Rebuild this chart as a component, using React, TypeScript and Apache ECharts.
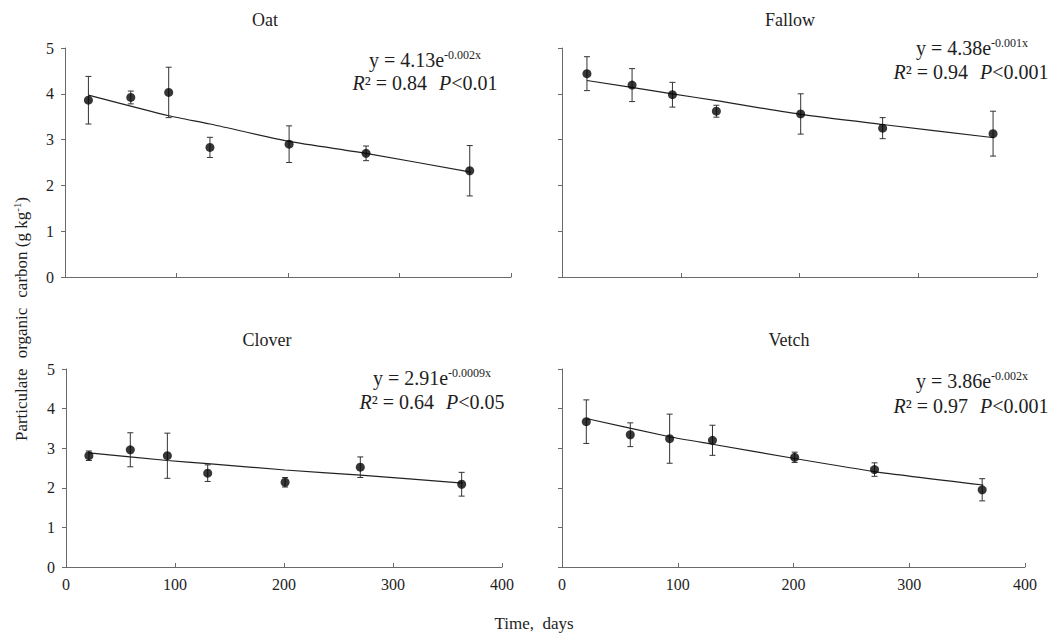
import React, { useEffect, useRef } from "react";
import * as echarts from "echarts";

// ---- data ----
const days = [21, 59, 93, 130, 201, 270, 363];

const oatMean = [3.86, 3.92, 4.03, 2.83, 2.9, 2.7, 2.32];
const oatErr = [0.52, 0.14, 0.55, 0.22, 0.4, 0.16, 0.55];
const fallowMean = [4.44, 4.19, 3.98, 3.62, 3.56, 3.25, 3.13];
const fallowErr = [0.37, 0.36, 0.27, 0.13, 0.44, 0.23, 0.49];
const cloverMean = [2.81, 2.96, 2.81, 2.37, 2.14, 2.52, 2.09];
const cloverErr = [0.12, 0.43, 0.57, 0.21, 0.12, 0.26, 0.3];
const vetchMean = [3.67, 3.34, 3.24, 3.2, 2.77, 2.46, 1.95];
const vetchErr = [0.55, 0.3, 0.62, 0.38, 0.13, 0.17, 0.28];

// fitted curves
const trendDays = [21, 93, 130, 201, 270, 364];
const oatTrend = [3.97, 3.52, 3.34, 2.96, 2.7, 2.29];
const fallowTrend = [4.29, 4.0, 3.85, 3.55, 3.33, 3.04];
const cloverTrend = [2.88, 2.69, 2.61, 2.45, 2.32, 2.12];
const vetchTrend = [3.75, 3.29, 3.1, 2.74, 2.41, 2.07];

const panelNames = ["Oat", "Fallow", "Clover", "Vetch"];
const eqCoef = ["4.13", "4.38", "2.91", "3.86"];
const eqExp = ["-0.002x", "-0.001x", "-0.0009x", "-0.002x"];
const r2Values = ["0.84", "0.94", "0.64", "0.97"];
const pValues = ["<0.01", "<0.001", "<0.05", "<0.001"];

const xTicks = [0, 100, 200, 300, 400];
const yTicks = [0, 1, 2, 3, 4, 5];

const FONT = '"Liberation Serif", "Times New Roman", serif';
const TXT = "#1e1e1e";
const AX = "#6a6a6a";

const means = [oatMean, fallowMean, cloverMean, vetchMean];
const errs = [oatErr, fallowErr, cloverErr, vetchErr];
const trends = [oatTrend, fallowTrend, cloverTrend, vetchTrend];

const layout = [
  { grid: { left: 65, top: 48, width: 446, height: 229 }, showX: false, showY: true, title: [265, 20], eq: [425, 60], st: [425, 83] },
  { grid: { left: 562, top: 48, width: 475, height: 229 }, showX: false, showY: false, title: [790, 20], eq: [972, 48], st: [971, 72] },
  { grid: { left: 66, top: 369, width: 436, height: 198 }, showX: true, showY: true, title: [267, 340], eq: [432, 378], st: [432, 402] },
  { grid: { left: 562, top: 369, width: 463, height: 198 }, showX: true, showY: false, title: [789, 340], eq: [972, 381], st: [971, 406] },
];

function buildOption() {
  const grids: any[] = [];
  const xAxes: any[] = [];
  const yAxes: any[] = [];
  const series: any[] = [];
  const graphic: any[] = [];

  layout.forEach((p, i) => {
    grids.push({ ...p.grid, containLabel: false });
    xAxes.push({
      gridIndex: i,
      type: "value",
      min: xTicks[0],
      max: xTicks[xTicks.length - 1],
      interval: xTicks[1] - xTicks[0],
      axisLine: { show: true, onZero: false, lineStyle: { color: AX, width: 1 } },
      axisTick: { show: true, inside: true, length: 4, lineStyle: { color: AX } },
      axisLabel: { show: p.showX, fontFamily: FONT, fontSize: 16, color: TXT, margin: 9 },
      splitLine: { show: false },
    });
    yAxes.push({
      gridIndex: i,
      type: "value",
      min: yTicks[0],
      max: yTicks[yTicks.length - 1],
      interval: yTicks[1] - yTicks[0],
      axisLine: { show: true, onZero: false, lineStyle: { color: AX, width: 1 } },
      axisTick: { show: true, inside: false, length: 4, lineStyle: { color: AX } },
      axisLabel: { show: p.showY, fontFamily: FONT, fontSize: 16, color: TXT, margin: 11 },
      splitLine: { show: false },
    });

    const m = means[i];
    const e = errs[i];
    series.push({
      type: "custom",
      xAxisIndex: i,
      yAxisIndex: i,
      data: days.map((d, k) => [d, m[k] - e[k], m[k] + e[k]]),
      encode: { x: 0, y: [1, 2] },
      z: 2,
      renderItem: (params: any, api: any) => {
        const x = api.value(0);
        const top = api.coord([x, api.value(2)]);
        const bot = api.coord([x, api.value(1)]);
        const w = 3;
        const st = { stroke: "#333", lineWidth: 1 };
        return {
          type: "group",
          children: [
            { type: "line", shape: { x1: top[0], y1: top[1], x2: bot[0], y2: bot[1] }, style: st },
            { type: "line", shape: { x1: top[0] - w, y1: top[1], x2: top[0] + w, y2: top[1] }, style: st },
            { type: "line", shape: { x1: bot[0] - w, y1: bot[1], x2: bot[0] + w, y2: bot[1] }, style: st },
          ],
        };
      },
    });
    series.push({
      type: "line",
      xAxisIndex: i,
      yAxisIndex: i,
      data: trendDays.map((d, k) => [d, trends[i][k]]),
      showSymbol: false,
      smooth: 0.2,
      lineStyle: { color: "#222", width: 1.2 },
      z: 3,
    });
    series.push({
      type: "scatter",
      xAxisIndex: i,
      yAxisIndex: i,
      data: days.map((d, k) => [d, m[k]]),
      symbol: "circle",
      symbolSize: 9,
      itemStyle: { color: "#050505" },
      z: 4,
    });

    graphic.push({
      type: "text",
      x: p.title[0],
      y: p.title[1],
      style: { text: panelNames[i], fontFamily: FONT, fontSize: 18, fill: TXT, align: "center", verticalAlign: "middle" },
    });
    graphic.push({
      type: "text",
      x: p.eq[0],
      y: p.eq[1],
      style: {
        text: `{n|y = ${eqCoef[i]}e}{s|${eqExp[i]}}`,
        align: "center",
        verticalAlign: "middle",
        rich: {
          n: { fontFamily: FONT, fontSize: 20, fill: TXT },
          s: { fontFamily: FONT, fontSize: 12, fill: TXT, padding: [0, 0, 10, 0] },
        },
      },
    });
    graphic.push({
      type: "text",
      x: p.st[0],
      y: p.st[1],
      style: {
        text: `{i|R}{n|² = ${r2Values[i]}}{j|P}{n|${pValues[i]}}`,
        align: "center",
        verticalAlign: "middle",
        rich: {
          n: { fontFamily: FONT, fontSize: 20, fill: TXT },
          i: { fontFamily: FONT, fontSize: 20, fill: TXT, fontStyle: "italic" },
          j: { fontFamily: FONT, fontSize: 20, fill: TXT, fontStyle: "italic", padding: [0, 0, 0, 12] },
        },
      },
    });
  });

  graphic.push({
    type: "text",
    x: 21,
    y: 319,
    rotation: Math.PI / 2,
    style: {
      text: "{n|Particulate}{w|organic}{w|carbon (g kg}{s|-1}{n|)}",
      align: "center",
      verticalAlign: "middle",
      rich: {
        n: { fontFamily: FONT, fontSize: 17, fill: TXT },
        w: { fontFamily: FONT, fontSize: 17, fill: TXT, padding: [0, 0, 0, 10] },
        s: { fontFamily: FONT, fontSize: 11, fill: TXT, padding: [0, 0, 8, 0] },
      },
    },
  });
  graphic.push({
    type: "text",
    x: 534,
    y: 623,
    style: {
      text: "Time,  days",
      fontFamily: FONT,
      fontSize: 17,
      fill: TXT,
      align: "center",
      verticalAlign: "middle",
    },
  });

  return {
    animation: false,
    backgroundColor: "#ffffff",
    grid: grids,
    xAxis: xAxes,
    yAxis: yAxes,
    series,
    graphic,
  };
}

export default function App() {
  const ref = useRef<HTMLDivElement>(null);
  useEffect(() => {
    if (!ref.current) return;
    const chart = echarts.init(ref.current, undefined, { renderer: "svg" });
    chart.setOption(buildOption() as any);
    return () => chart.dispose();
  }, []);
  return (
    <div
      ref={ref}
      style={{ position: "absolute", left: 0, top: 0, width: 1056, height: 634, background: "#fff" }}
    />
  );
}
